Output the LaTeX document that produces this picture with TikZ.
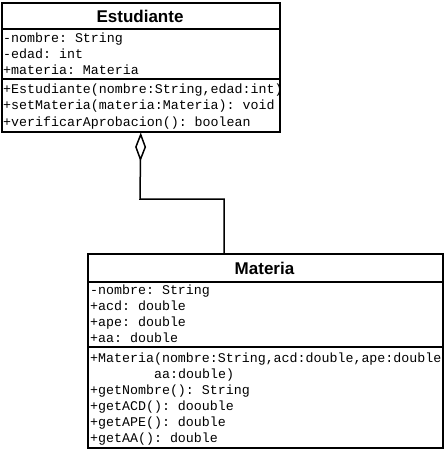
\documentclass[tikz,border=0pt]{standalone}
\usepackage{fontspec}
\setmainfont{Liberation Sans}
\setmonofont{Liberation Mono}
\usetikzlibrary{arrows.meta}
\begin{document}
\begin{tikzpicture}[x=1pt,y=1pt,
  box/.style={draw, line width=1.5pt, inner sep=0pt, anchor=north west},
  sep/.style={line width=1.5pt},
  ttl/.style={inner sep=0pt, font=\fontsize{17}{20}\selectfont\bfseries},
  mem/.style={anchor=base west, inner sep=0pt, font=\fontsize{13.3}{16}\selectfont\ttfamily},
  conn/.style={line width=1.5pt, -{Diamond[open, length=29pt, width=11pt, line width=1.5pt]}}]
\useasboundingbox (0,0) rectangle (444,-450);
% Estudiante
\node[box, minimum width=278pt, minimum height=129pt] (est) at (1,-2) {};
\draw[sep] (1,-29) -- (279,-29);
\draw[sep] (1,-79) -- (279,-79);
\node[ttl] (estt) at (140,-16) {Estudiante};
\node[mem] (e1) at (3,-42) {-nombre: String};
\node[mem] (e2) at (3,-58) {-edad: int};
\node[mem] (e3) at (3,-74) {+materia: Materia};
\begin{scope}
\clip (1,-79) rectangle (278,-131);
\node[mem] (e4) at (3,-93) {+Estudiante(nombre:String,edad:int)};
\end{scope}
\node[mem] (e5) at (3,-109.5) {+setMateria(materia:Materia): void};
\node[mem] (e6) at (3,-126) {+verificarAprobacion(): boolean};
% Materia
\node[box, minimum width=355pt, minimum height=194pt] (mat) at (87,-253) {};
\draw[sep] (87,-282) -- (442,-282);
\draw[sep] (87,-347) -- (442,-347);
\node[ttl] (matt) at (264.5,-268) {Materia};
\node[mem] (m1) at (90,-294) {-nombre: String};
\node[mem] (m2) at (90,-310) {+acd: double};
\node[mem] (m3) at (90,-326) {+ape: double};
\node[mem] (m4) at (90,-342) {+aa: double};
\node[mem] (m5) at (90,-362) {+Materia(nombre:String,acd:double,ape:double};
\node[mem] (m6) at (154,-378) {aa:double)};
\node[mem] (m7) at (90,-394) {+getNombre(): String};
\node[mem] (m8) at (90,-410) {+getACD(): doouble};
\node[mem] (m9) at (90,-426) {+getAPE(): double};
\node[mem] (m10) at (90,-442) {+getAA(): double};
% connector
\coordinate (cx) at (224,0);
\coordinate (bend) at (140,-199);
\draw[conn] (mat.north -| cx) |- (bend) -- (est.south);
\end{tikzpicture}
\end{document}
